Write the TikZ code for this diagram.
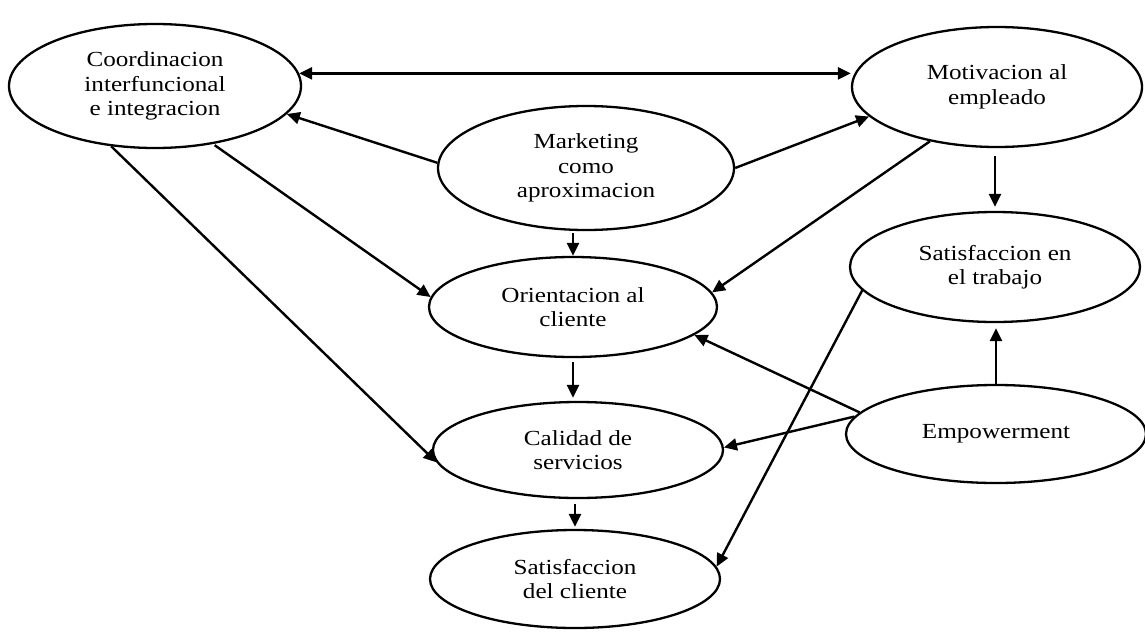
\documentclass[tikz,border=0pt]{standalone}
\usepackage{fontspec}
\setmainfont{Liberation Serif}[FakeStretch=1.17]
\usetikzlibrary{shapes.geometric,arrows.meta}

\tikzset{
  oval/.style={ellipse, draw, line width=2.3pt, inner sep=0pt, align=center,
               font=\fontsize{21.5}{24.5}\selectfont},
  link/.style={line width=2.4pt, -{Triangle[length=13pt,width=12pt]}},
  twoway/.style={line width=2.4pt, {Triangle[length=13pt,width=12pt]}-{Triangle[length=13pt,width=12pt]}}
}

\begin{document}
\begin{tikzpicture}[x=1pt,y=-1pt]
  \useasboundingbox (0,0) rectangle (1145,632);

  % concept ovals
  \node[oval, minimum width=292pt, minimum height=124pt] (coord)   at (155,86)  {Coordinacion\\interfuncional\\e integracion};
  \node[oval, minimum width=290pt, minimum height=120pt] (motiv)   at (997,87)  {Motivacion al\\empleado};
  \node[oval, minimum width=296pt, minimum height=124pt] (mkt)     at (586,168) {Marketing\\como\\aproximacion};
  \node[oval, minimum width=288pt, minimum height=100pt] (orient)  at (573,307) {Orientacion al\\cliente};
  \node[oval, minimum width=290pt, minimum height=110pt] (sattrab) at (995,267) {Satisfaccion en\\el trabajo};
  \node[oval, minimum width=290pt, minimum height=96pt]  (calidad) at (578,450) {Calidad de\\servicios};
  \node[oval, minimum width=300pt, minimum height=98pt]  (emp)     at (996,434) {Empowerment};
  \node[oval, minimum width=290pt, minimum height=98pt]  (satcli)  at (575,579) {Satisfaccion\\del cliente};

  % relations
  \draw[twoway] (coord.5) -- (motiv.west |- coord.5);
  \draw[link] (mkt.178) -- (coord.-12.4);
  \draw[link] (mkt.0) -- (motiv.193);
  \draw[link, shorten <=2pt] (mkt.south -| orient.north) -- (orient.north);
  \draw[link] (motiv.219) -- (orient.6.5);
  \draw[link, shorten <=8pt, shorten >=4pt] (motiv.south -| sattrab.north) -- (sattrab.north);
  \draw[link, shorten <=2pt] (coord.-45.5) -- (orient.176.4);
  \draw[link] (coord.234.9) -- (calidad.185);
  \draw[link, shorten <=4pt, shorten >=3pt] (orient.south) -- (orient.south |- calidad.north);
  \draw[link] (emp.171) -- (orient.-13.8);
  \draw[link] (emp.173) -- (calidad.1.2);
  \draw[link, shorten >=5pt] (emp.north) -- (emp.north |- sattrab.south);
  \draw[link] (sattrab.190.3) -- (satcli.5.4);
  \draw[link, shorten <=5pt, shorten >=2pt] (satcli.north |- calidad.south) -- (satcli.north);
\end{tikzpicture}
\end{document}
